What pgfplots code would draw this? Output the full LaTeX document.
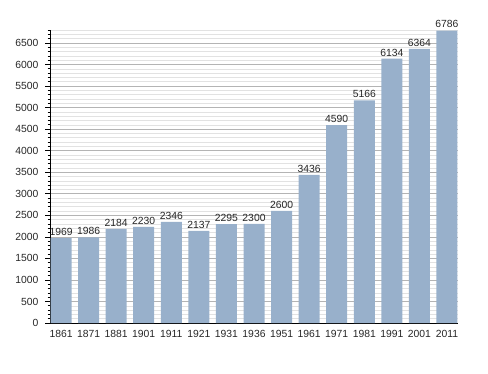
\documentclass[border=0pt]{standalone}
\usepackage{pgfplots}
\pgfplotsset{compat=1.18}
\usepackage{fontspec}
\setmainfont{Liberation Sans}
\definecolor{barc}{HTML}{98B0CB}
\definecolor{majg}{HTML}{B4B4B4}
\definecolor{ming}{HTML}{E2E2E2}
\begin{document}
\begin{tikzpicture}[x=1bp,y=1bp]
\path (0,0) rectangle (488,373);
\begin{axis}[
  at={(50bp,50bp)}, anchor=south west,
  scale only axis, width=408bp, height=293bp,
  xmin=-0.4, xmax=14.4, ymin=0, ymax=6800,
  axis x line*=bottom, axis y line*=left,
  axis line style={black, line width=0.8bp, -},
  xtick=data,
  xticklabels={1861,1871,1881,1901,1911,1921,1931,1936,1951,1961,1971,1981,1991,2001,2011},
  major x tick style={draw=none},
  ytick distance=500, minor y tick num=4,
  tick align=outside, major tick length=5bp, minor tick length=2.5bp,
  y tick style={black, line width=0.6bp},
  ymajorgrids, yminorgrids,
  major grid style={majg, line width=0.6bp},
  minor grid style={ming, line width=0.5bp},
  /pgf/number format/assume math mode=true,
  /pgf/number format/1000 sep={},
  tick label style={font=\fontsize{10.4}{12}\selectfont, text=black!85},
  yticklabel style={xshift=-3bp},
  xticklabel style={yshift=1bp},
  nodes near coords,
  every node near coord/.append style={font=\fontsize{10.4}{12}\selectfont, text=black!85, yshift=-1bp},
]
\addplot[ybar, bar width=21bp, fill=barc, draw=none] coordinates {
(0,1969) (1,1986) (2,2184) (3,2230) (4,2346) (5,2137) (6,2295) (7,2300)
(8,2600) (9,3436) (10,4590) (11,5166) (12,6134) (13,6364) (14,6786)};
\end{axis}
\end{tikzpicture}
\end{document}
